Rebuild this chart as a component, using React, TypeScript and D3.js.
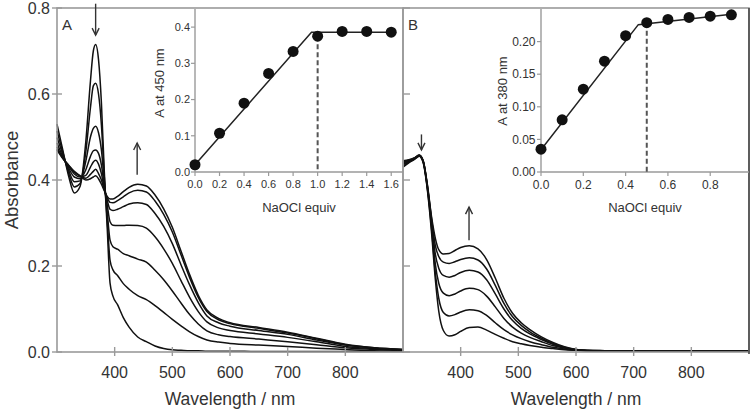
import React from "react";
import * as d3 from "d3";

// ---------- Panel A spectra ----------
const wavelengthsA = [300, 310, 320, 330, 340, 350, 358, 363, 367, 372, 377, 382, 387, 392, 397, 405, 415, 425, 440, 455, 470, 485, 500, 515, 530, 545, 560, 580, 600, 650, 700, 750, 800, 850, 900];
const specA0 = [0.53, 0.47, 0.41, 0.37, 0.385, 0.49, 0.63, 0.70, 0.715, 0.68, 0.58, 0.42, 0.29, 0.16, 0.13, 0.11, 0.08, 0.058, 0.035, 0.024, 0.014, 0.008, 0.005, 0.004, 0.003, 0.003, 0.002, 0.002, 0.002, 0.001, 0.001, 0.001, 0.001, 0.001, 0.001];
const specA1 = [0.514, 0.465, 0.417, 0.384, 0.392, 0.466, 0.568, 0.619, 0.625, 0.6, 0.528, 0.408, 0.309, 0.213, 0.191, 0.178, 0.159, 0.146, 0.131, 0.122, 0.108, 0.092, 0.076, 0.061, 0.047, 0.036, 0.028, 0.023, 0.020, 0.016, 0.013, 0.009, 0.006, 0.003, 0.002];
const specA2 = [0.499, 0.46, 0.423, 0.396, 0.398, 0.444, 0.50, 0.52, 0.525, 0.51, 0.47, 0.397, 0.327, 0.26, 0.245, 0.239, 0.229, 0.224, 0.216, 0.209, 0.19, 0.168, 0.142, 0.114, 0.087, 0.065, 0.049, 0.04, 0.036, 0.03, 0.024, 0.017, 0.01, 0.006, 0.004];
const specA3 = [0.486, 0.455, 0.428, 0.407, 0.403, 0.424, 0.455, 0.468, 0.47, 0.462, 0.435, 0.387, 0.343, 0.303, 0.295, 0.294, 0.294, 0.295, 0.294, 0.288, 0.268, 0.24, 0.206, 0.166, 0.127, 0.094, 0.07, 0.056, 0.05, 0.042, 0.034, 0.024, 0.013, 0.008, 0.005];
const specA4 = [0.477, 0.452, 0.432, 0.414, 0.407, 0.411, 0.43, 0.442, 0.446, 0.437, 0.415, 0.38, 0.353, 0.332, 0.329, 0.332, 0.338, 0.344, 0.347, 0.343, 0.322, 0.292, 0.252, 0.203, 0.156, 0.115, 0.084, 0.068, 0.06, 0.05, 0.041, 0.028, 0.016, 0.009, 0.005];
const specA5 = [0.472, 0.451, 0.434, 0.418, 0.409, 0.404, 0.413, 0.42, 0.425, 0.415, 0.4, 0.377, 0.359, 0.348, 0.347, 0.352, 0.361, 0.37, 0.376, 0.372, 0.351, 0.32, 0.279, 0.226, 0.173, 0.127, 0.094, 0.075, 0.066, 0.055, 0.044, 0.031, 0.017, 0.01, 0.006];
const specA6 = [0.47, 0.45, 0.435, 0.42, 0.41, 0.40, 0.403, 0.407, 0.41, 0.403, 0.39, 0.375, 0.362, 0.356, 0.356, 0.362, 0.373, 0.383, 0.39, 0.386, 0.365, 0.333, 0.29, 0.235, 0.18, 0.132, 0.098, 0.078, 0.068, 0.057, 0.046, 0.032, 0.018, 0.01, 0.006];

// ---------- Panel B spectra ----------
const wavelengthsB = [300, 310, 320, 328, 335, 342, 350, 356, 362, 370, 380, 390, 400, 415, 430, 445, 460, 475, 490, 505, 520, 540, 560, 580, 600, 620, 650, 700, 750, 800, 850, 900];
const specB0 = [0.43, 0.44, 0.448, 0.455, 0.44, 0.38, 0.27, 0.17, 0.095, 0.05, 0.037, 0.04, 0.048, 0.057, 0.058, 0.051, 0.041, 0.032, 0.024, 0.019, 0.015, 0.011, 0.008, 0.005, 0.004, 0.003, 0.002, 0.002, 0.002, 0.002, 0.002, 0.002];
const specB1 = [0.432, 0.441, 0.449, 0.456, 0.442, 0.383, 0.28, 0.185, 0.125, 0.092, 0.084, 0.087, 0.093, 0.098, 0.096, 0.085, 0.068, 0.052, 0.04, 0.031, 0.024, 0.017, 0.011, 0.007, 0.004, 0.003, 0.002, 0.002, 0.002, 0.002, 0.002, 0.002];
const specB2 = [0.436, 0.443, 0.45, 0.457, 0.443, 0.386, 0.29, 0.205, 0.16, 0.137, 0.131, 0.135, 0.142, 0.148, 0.145, 0.13, 0.105, 0.078, 0.058, 0.044, 0.034, 0.024, 0.015, 0.009, 0.005, 0.003, 0.002, 0.002, 0.002, 0.002, 0.002, 0.002];
const specB3 = [0.439, 0.445, 0.451, 0.457, 0.444, 0.388, 0.298, 0.228, 0.195, 0.178, 0.174, 0.178, 0.185, 0.19, 0.186, 0.168, 0.135, 0.1, 0.073, 0.055, 0.042, 0.029, 0.018, 0.01, 0.005, 0.003, 0.002, 0.002, 0.002, 0.002, 0.002, 0.002];
const specB4 = [0.442, 0.446, 0.451, 0.458, 0.445, 0.39, 0.305, 0.248, 0.222, 0.209, 0.206, 0.21, 0.215, 0.219, 0.214, 0.193, 0.155, 0.113, 0.082, 0.062, 0.047, 0.032, 0.02, 0.011, 0.006, 0.004, 0.003, 0.002, 0.002, 0.002, 0.002, 0.002];
const specB5 = [0.445, 0.447, 0.452, 0.458, 0.445, 0.392, 0.31, 0.265, 0.238, 0.228, 0.229, 0.236, 0.243, 0.247, 0.24, 0.215, 0.172, 0.125, 0.09, 0.068, 0.052, 0.035, 0.022, 0.012, 0.006, 0.004, 0.003, 0.003, 0.002, 0.002, 0.002, 0.002];

// ---------- Insets ----------
const equivA = [0, 0.2, 0.4, 0.6, 0.8, 1.0, 1.2, 1.4, 1.6];
const absA450 = [0.02, 0.107, 0.19, 0.272, 0.333, 0.375, 0.388, 0.388, 0.386];
const fitAX = [0, 0.95, 1.6];
const fitAY = [0.02, 0.386, 0.386];
const breakA = 1.0;

const equivB = [0, 0.1, 0.2, 0.3, 0.4, 0.5, 0.6, 0.7, 0.8, 0.9];
const absB380 = [0.035, 0.08, 0.127, 0.17, 0.209, 0.229, 0.234, 0.237, 0.239, 0.241];
const fitBX = [0, 0.46, 0.9];
const fitBY = [0.034, 0.226, 0.242];
const breakB = 0.5;

// ---------- Ticks ----------
const mainYTicks = [0, 0.2, 0.4, 0.6, 0.8];
const mainXTicks = [400, 500, 600, 700, 800];
const insetAXTicks = [0, 0.2, 0.4, 0.6, 0.8, 1.0, 1.2, 1.4, 1.6];
const insetAYTicks = [0, 0.1, 0.2, 0.3, 0.4];
const insetBXTicks = [0, 0.2, 0.4, 0.6, 0.8];
const insetBYTicks = [0, 0.05, 0.1, 0.15, 0.2];

const FONT = "'Liberation Sans', Arial, Helvetica, sans-serif";
const AXIS = "#9a9a9a";
const TXT = "#333";

function Arrow({ x, y1, y2 }: { x: number; y1: number; y2: number }) {
  const dir = y2 > y1 ? 1 : -1;
  return (
    <g stroke="#333" strokeWidth={1.4} fill="none">
      <line x1={x} y1={y1} x2={x} y2={y2} />
      <path d={`M${x - 3.5},${y2 - dir * 7} L${x},${y2} L${x + 3.5},${y2 - dir * 7}`} />
    </g>
  );
}

export default function App() {
  const yMain = d3.scaleLinear().domain([0, 0.8]).range([352, 8]);
  const xA = d3.scaleLinear().domain([300, 900]).range([57, 403]);
  const xB = d3.scaleLinear().domain([300, 900]).range([403, 749]);

  const specsA = [specA0, specA1, specA2, specA3, specA4, specA5, specA6];
  const specsB = [specB0, specB1, specB2, specB3, specB4, specB5];

  const lineA = d3.line<number>().x((_, i) => xA(wavelengthsA[i])).y((d) => yMain(d)).curve(d3.curveMonotoneX);
  const lineB = d3.line<number>().x((_, i) => xB(wavelengthsB[i])).y((d) => yMain(d)).curve(d3.curveMonotoneX);

  // insets
  const ixA = d3.scaleLinear().domain([0, 1.696]).range([195, 403]);
  const iyA = d3.scaleLinear().domain([0, 0.45]).range([172, 9]);
  const ixB = d3.scaleLinear().domain([0, 0.988]).range([541, 750]);
  const iyB = d3.scaleLinear().domain([0, 0.25]).range([172, 9]);

  const fitLineA = d3.line<number>().x((d) => ixA(d)).y((_, i) => iyA(fitAY[i]));
  const fitLineB = d3.line<number>().x((d) => ixB(d)).y((_, i) => iyB(fitBY[i]));

  const fmt1 = d3.format(".1f");
  const fmt2 = d3.format(".2f");

  return (
    <svg width={755} height={413} style={{ position: "absolute", left: 0, top: 0, background: "#fff" }} fontFamily={FONT}>
      <rect x={0} y={0} width={755} height={413} fill="#fff" />

      {/* Spectra */}
      <g fill="none" stroke="#111" strokeWidth={1.5}>
        {specsA.map((s, i) => (
          <path key={"a" + i} d={lineA(s) || ""} />
        ))}
        {specsB.map((s, i) => (
          <path key={"b" + i} d={lineB(s) || ""} />
        ))}
      </g>

      {/* Frames */}
      <rect x={57} y={8} width={346} height={344} fill="none" stroke={AXIS} strokeWidth={1.6} />
      <rect x={403} y={8} width={346} height={344} fill="none" stroke={AXIS} strokeWidth={1.6} />
      <line x1={749} y1={8} x2={749} y2={354} stroke="#555" strokeWidth={1.8} />

      {/* main y ticks */}
      {mainYTicks.map((t) => (
        <g key={"ya" + t}>
          <line x1={52} x2={62} y1={yMain(t)} y2={yMain(t)} stroke={AXIS} strokeWidth={1.4} />
          <line x1={403} x2={410} y1={yMain(t)} y2={yMain(t)} stroke={AXIS} strokeWidth={1.4} />
          <text x={50} y={yMain(t)} dy="0.35em" textAnchor="end" fontSize={16} fill={TXT}>
            {fmt1(t)}
          </text>
        </g>
      ))}
      {/* main x ticks */}
      {mainXTicks.map((t) => (
        <g key={"xa" + t}>
          <line x1={xA(t)} x2={xA(t)} y1={347} y2={356} stroke={AXIS} strokeWidth={1.4} />
          <line x1={xB(t)} x2={xB(t)} y1={347} y2={356} stroke={AXIS} strokeWidth={1.4} />
          <text x={xA(t)} y={378} textAnchor="middle" fontSize={16} fill={TXT}>
            {t}
          </text>
          <text x={xB(t)} y={378} textAnchor="middle" fontSize={16} fill={TXT}>
            {t}
          </text>
        </g>
      ))}

      {/* Axis titles */}
      <text x={230} y={405} textAnchor="middle" fontSize={17.5} fill={TXT}>Wavelength / nm</text>
      <text x={576} y={405} textAnchor="middle" fontSize={17.5} fill={TXT}>Wavelength / nm</text>
      <text transform="translate(18,180) rotate(-90)" textAnchor="middle" fontSize={18.5} fill={TXT}>Absorbance</text>

      {/* Panel labels */}
      <text x={62} y={30} fontSize={15} fill={TXT}>A</text>
      <text x={408} y={30} fontSize={15} fill={TXT}>B</text>

      {/* Arrows */}
      <Arrow x={xA(367)} y1={yMain(0.81)} y2={yMain(0.737)} />
      <Arrow x={xA(439)} y1={yMain(0.412)} y2={yMain(0.486)} />
      <Arrow x={xB(332)} y1={yMain(0.506)} y2={yMain(0.47)} />
      <Arrow x={xB(414.5)} y1={yMain(0.26)} y2={yMain(0.337)} />

      {/* ---------- Inset A ---------- */}
      <g>
        <line x1={195} x2={403} y1={172} y2={172} stroke={AXIS} strokeWidth={1.4} />
        <line x1={195} x2={195} y1={172} y2={9} stroke={AXIS} strokeWidth={1.4} />
        {insetAXTicks.map((t) => (
          <g key={"iax" + t}>
            <line x1={ixA(t)} x2={ixA(t)} y1={172} y2={176} stroke={AXIS} strokeWidth={1.2} />
            <text x={ixA(t)} y={188} textAnchor="middle" fontSize={11} fill={TXT}>{fmt1(t)}</text>
          </g>
        ))}
        {insetAYTicks.map((t) => (
          <g key={"iay" + t}>
            <line x1={191} x2={195} y1={iyA(t)} y2={iyA(t)} stroke={AXIS} strokeWidth={1.2} />
            <text x={190} y={iyA(t)} dy="0.35em" textAnchor="end" fontSize={11} fill={TXT}>{fmt1(t)}</text>
          </g>
        ))}
        <text x={299} y={212} textAnchor="middle" fontSize={13} fill={TXT}>NaOCl equiv</text>
        <text transform="translate(164,83) rotate(-90)" textAnchor="middle" fontSize={13} fill={TXT}>A at 450 nm</text>
        <line x1={ixA(breakA)} x2={ixA(breakA)} y1={iyA(absA450[5])} y2={iyA(0)} stroke="#555" strokeWidth={2} strokeDasharray="5,3" />
        <path d={fitLineA(fitAX) || ""} fill="none" stroke="#222" strokeWidth={1.5} />
        {equivA.map((e, i) => (
          <circle key={"pa" + i} cx={ixA(e)} cy={iyA(absA450[i])} r={5.5} fill="#111" />
        ))}
      </g>

      {/* ---------- Inset B ---------- */}
      <g>
        <line x1={541} x2={749} y1={172} y2={172} stroke={AXIS} strokeWidth={1.4} />
        <line x1={541} x2={541} y1={172} y2={9} stroke={AXIS} strokeWidth={1.4} />
        {insetBXTicks.map((t) => (
          <g key={"ibx" + t}>
            <line x1={ixB(t)} x2={ixB(t)} y1={172} y2={176} stroke={AXIS} strokeWidth={1.2} />
            <text x={ixB(t)} y={189} textAnchor="middle" fontSize={12} fill={TXT}>{fmt1(t)}</text>
          </g>
        ))}
        {insetBYTicks.map((t) => (
          <g key={"iby" + t}>
            <line x1={537} x2={541} y1={iyB(t)} y2={iyB(t)} stroke={AXIS} strokeWidth={1.2} />
            <text x={535.5} y={iyB(t)} dy="0.35em" textAnchor="end" fontSize={12} fill={TXT}>{fmt2(t)}</text>
          </g>
        ))}
        <text x={645} y={212} textAnchor="middle" fontSize={13} fill={TXT}>NaOCl equiv</text>
        <text transform="translate(507,91) rotate(-90)" textAnchor="middle" fontSize={13} fill={TXT}>A at 380 nm</text>
        <line x1={ixB(breakB)} x2={ixB(breakB)} y1={iyB(absB380[5])} y2={iyB(0)} stroke="#555" strokeWidth={2} strokeDasharray="5,3" />
        <path d={fitLineB(fitBX) || ""} fill="none" stroke="#222" strokeWidth={1.5} />
        {equivB.map((e, i) => (
          <circle key={"pb" + i} cx={ixB(e)} cy={iyB(absB380[i])} r={5.5} fill="#111" />
        ))}
      </g>
    </svg>
  );
}
